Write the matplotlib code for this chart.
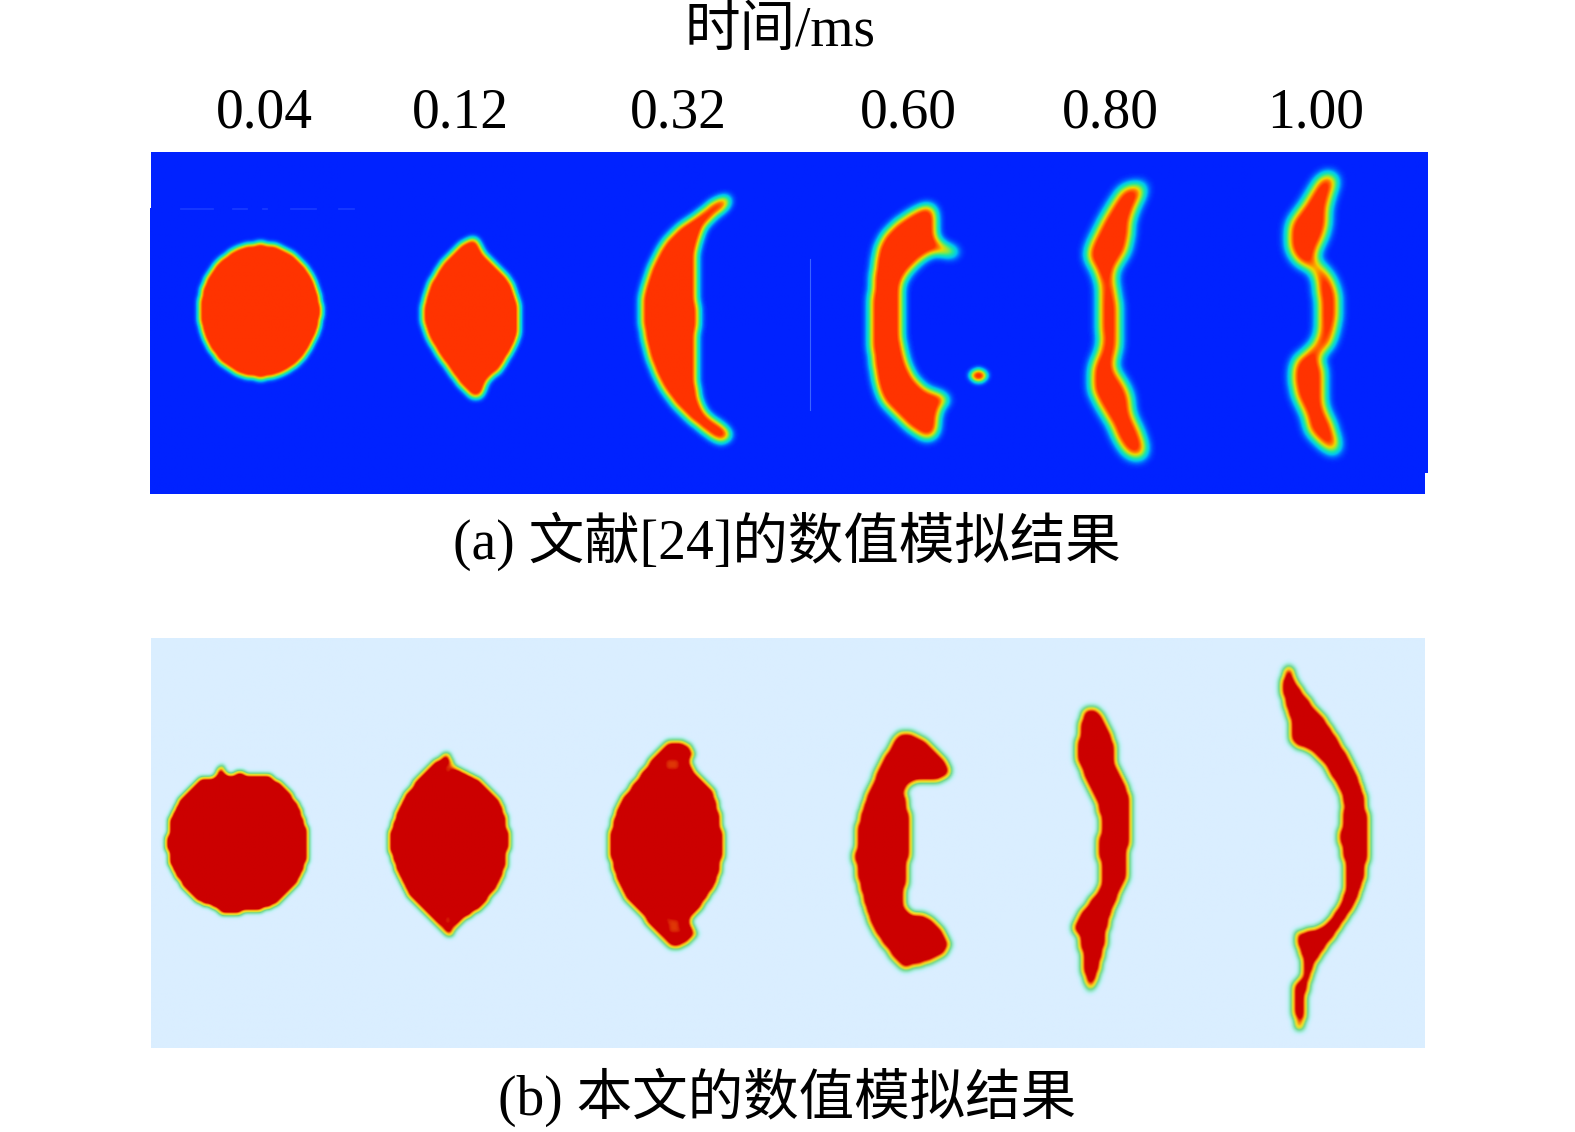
import numpy as np
import matplotlib
matplotlib.use("Agg")
import matplotlib.pyplot as plt
from matplotlib.colors import LinearSegmentedColormap
from matplotlib.path import Path
from matplotlib.patches import Rectangle

plt.rcParams["font.family"] = ["Liberation Serif", "Noto Sans CJK SC"]

# time labels and captions
times = ["0.04", "0.12", "0.32", "0.60", "0.80", "1.00"]
time_x = [263, 458, 675, 904, 1105, 1309]
caption_a = "(a) 文献[24]的数值模拟结果"
caption_b = "(b) 本文的数值模拟结果"

a1 = [(321, 310), (316, 335), (303, 357), (284, 372), (261, 377), (238, 372), (218, 357), (205, 335),
      (201, 310), (205, 285), (218, 264), (238, 249), (261, 244), (284, 249), (303, 264), (316, 285)]
a2 = [(476, 240), (483, 252), (497, 267), (511, 283), (519, 310), (517, 337), (501, 367), (487, 380),
      (481, 395), (472, 395), (460, 382), (444, 360), (430, 337), (424, 313), (430, 287), (444, 263), (462, 245)]
a3 = [(728, 198), (713, 203), (700, 214), (680, 228), (664, 245), (652, 268), (644, 295), (643, 317), (648, 347),
      (660, 380), (679, 407), (699, 425), (719, 439), (730, 435), (721, 425), (705, 413), (697, 390),
      (695, 357), (697, 317), (695, 277), (697, 247), (707, 222), (725, 207)]
a4 = [(933, 209), (937, 240), (957, 252), (933, 252), (923, 257), (904, 277), (900, 300), (901, 337),
      (908, 367), (923, 388), (947, 398), (939, 408), (935, 432), (925, 436), (902, 419), (882, 395),
      (874, 357), (872, 317), (876, 267), (882, 241), (898, 223), (921, 209)]
a4_blob = [(971, 375), (976, 371), (982, 371), (987, 375), (982, 379), (976, 379)]
a5 = [(1141, 186), (1125, 189), (1110, 210), (1094, 240), (1090, 257), (1098, 273), (1102, 293), (1102, 323),
      (1102, 347), (1094, 367), (1094, 390), (1110, 420), (1127, 451), (1143, 454), (1141, 437), (1131, 413),
      (1127, 390), (1114, 367), (1118, 343), (1118, 310), (1114, 283), (1114, 270), (1127, 247), (1131, 217), (1143, 189)]
a6 = [(1333, 176), (1321, 179), (1306, 203), (1292, 223), (1290, 243), (1298, 260), (1314, 270), (1319, 290),
      (1320, 310), (1319, 337), (1306, 353), (1296, 363), (1296, 390), (1306, 413), (1312, 433), (1331, 449),
      (1337, 446), (1331, 423), (1323, 403), (1323, 370), (1318, 358), (1331, 340), (1337, 310), (1333, 283),
      (1318, 263), (1314, 257), (1325, 230), (1327, 207), (1335, 179)]

b1 = [(221, 766), (228, 776), (238, 773), (258, 775), (268, 775), (285, 787), (299, 807), (307, 830),
      (307, 857), (299, 880), (283, 898), (266, 908), (242, 912), (224, 915), (213, 907), (195, 900),
      (181, 883), (170, 863), (167, 840), (172, 813), (185, 793), (199, 780), (213, 777)]
b2 = [(448, 753), (456, 768), (477, 778), (497, 797), (507, 823), (508, 850), (501, 880), (481, 907),
      (458, 923), (450, 935), (436, 922), (415, 903), (399, 877), (389, 843), (397, 810), (407, 792), (424, 770), (440, 758)]
b3 = [(672, 741), (691, 748), (693, 770), (713, 790), (721, 823), (723, 850), (717, 880), (701, 907),
      (691, 920), (695, 935), (675, 947), (660, 937), (640, 913), (621, 890), (610, 857), (610, 833),
      (619, 803), (638, 777), (656, 753)]
b4 = [(906, 733), (925, 740), (947, 762), (945, 778), (908, 785), (910, 817), (910, 850), (906, 907),
      (927, 915), (945, 933), (945, 953), (906, 967), (894, 958), (872, 927), (857, 877), (855, 847),
      (861, 810), (876, 773), (894, 740)]
b5 = [(1090, 708), (1100, 713), (1114, 740), (1116, 763), (1131, 800), (1129, 850), (1127, 877), (1112, 913),
      (1104, 950), (1094, 985), (1088, 985), (1082, 967), (1080, 940), (1074, 923), (1100, 883), (1098, 850),
      (1098, 810), (1076, 757), (1080, 733), (1082, 713)]
b6 = [(1290, 668), (1302, 690), (1333, 730), (1359, 777), (1368, 817), (1368, 857), (1359, 897), (1337, 933),
      (1316, 963), (1306, 997), (1303, 1027), (1297, 1025), (1293, 1003), (1293, 987), (1303, 970), (1296, 937),
      (1300, 932), (1325, 923), (1343, 893), (1343, 857), (1339, 837), (1343, 803), (1329, 773), (1312, 753),
      (1292, 743), (1290, 723), (1282, 693), (1284, 675)]
# cooler blotches inside the (b) droplets
b_spots = [[(444, 762), (452, 762), (454, 776), (444, 776)], [(443, 913), (452, 913), (452, 926), (443, 926)],
           [(662, 758), (682, 756), (680, 772), (664, 772)], [(664, 914), (680, 918), (684, 934), (666, 934)]]

# scraps left in the top panel
stray_line_x = [806, 806]
stray_line_y = [258, 408]
stray_dash_x = [(180, 212), (232, 246), (262, 266), (290, 314), (337, 352)]

# crops were read at full size, everything else on the slightly smaller view
OUTLINE_SCALE = 0.995


def smooth(points, n=8):
    # closed Catmull-Rom through the read points
    pts = np.array(points, dtype=float) * OUTLINE_SCALE
    out = []
    for i in range(len(pts)):
        p0, p1, p2, p3 = pts[i - 1], pts[i], pts[(i + 1) % len(pts)], pts[(i + 2) % len(pts)]
        for t in np.linspace(0, 1, n, endpoint=False):
            out.append(0.5 * (2 * p1 + (p2 - p0) * t + (2 * p0 - 5 * p1 + 4 * p2 - p3) * t ** 2
                              + (3 * p1 - p0 - 3 * p2 + p3) * t ** 3))
    return np.array(out)


def blur(field, sigma):
    r = int(sigma * 3)
    k = np.exp(-0.5 * (np.arange(-r, r + 1) / sigma) ** 2)
    k /= k.sum()
    field = np.apply_along_axis(lambda v: np.convolve(v, k, mode="same"), 0, field)
    return np.apply_along_axis(lambda v: np.convolve(v, k, mode="same"), 1, field)


def panel_field(shapes, sigmas, x0, x1, y0, y1, cell, spots=()):
    # snapping to a coarse cell gives the stepped edge of the simulation grid
    xx, yy = np.meshgrid(np.arange(x0, x1) + 0.5, np.arange(y0, y1) + 0.5)
    grid = np.column_stack([(xx.ravel() // cell + 0.5) * cell, (yy.ravel() // cell + 0.5) * cell])
    field = np.zeros(xx.shape)
    for shape, sigma in zip(shapes, sigmas):
        mask = Path(smooth(shape)).contains_points(grid).astype(float)
        for spot in spots:
            inside = Path(np.array(spot, dtype=float) * OUTLINE_SCALE).contains_points(grid)
            mask[inside] *= 0.72
        field = np.maximum(field, blur(mask.reshape(xx.shape), sigma))
    return field


cmap_a = LinearSegmentedColormap.from_list("a", [
    (0.00, "#0022ff"), (0.05, "#0060ff"), (0.13, "#00c8f0"), (0.25, "#20e8a0"),
    (0.38, "#90e840"), (0.50, "#f0d800"), (0.63, "#ff8000"), (0.78, "#ff3300"), (1.00, "#ff3300")])
cmap_b = LinearSegmentedColormap.from_list("b", [
    (0.00, "#daeeff"), (0.03, "#c8f0fa"), (0.11, "#a0e8d0"), (0.24, "#70d890"),
    (0.38, "#d0e040"), (0.50, "#f8d820"), (0.64, "#f88010"), (0.79, "#cc0000"), (1.00, "#cc0000")])

fig = plt.figure(figsize=(15.75, 11.32), dpi=100, facecolor="white")
ax = fig.add_axes([0, 0, 1, 1])

field_a = panel_field([a1, a2, a3, a4, a4_blob, a5, a6], [3.0, 3.3, 4.2, 4.8, 3.0, 5.4, 5.4],
                      150, 1421, 151, 491, 2)
ax.imshow(field_a, cmap=cmap_a, vmin=0, vmax=1, extent=(149.5, 1421, 491, 151),
          interpolation="bilinear", aspect="auto")
field_b = panel_field([b1, b2, b3, b4, b5, b6], [2.6, 2.8, 3.0, 3.4, 3.4, 3.4],
                      150, 1418, 635, 1042, 3, b_spots)
ax.imshow(field_b, cmap=cmap_b, vmin=0, vmax=1, extent=(150, 1417, 1042, 635),
          interpolation="bilinear", aspect="auto")

ax.add_patch(Rectangle((1418, 470), 6, 23, facecolor="white", edgecolor="none"))
ax.add_patch(Rectangle((148, 150), 2, 57, facecolor="white", edgecolor="none"))
ax.plot(stray_line_x, stray_line_y, color="#3c64ff", lw=0.8)
for x_a, x_b in stray_dash_x:
    ax.plot([x_a, x_b], [208, 208], color="#1a3cff", lw=1.2)

# limits a little tighter than the figure so picture coordinates land where they were read
ax.set_xlim(0, 1567)
ax.set_ylim(1126, 0)
ax.axis("off")

ax.text(776, 32, "时间/ms", fontsize=40, ha="center", va="center")
for x, label in zip(time_x, times):
    ax.text(x, 113, label, fontsize=40, ha="center", va="center")
ax.text(783, 538, caption_a, fontsize=40, ha="center", va="center")
ax.text(783, 1091, caption_b, fontsize=40, ha="center", va="center")

fig.savefig("out.png", dpi=100, facecolor="white")
